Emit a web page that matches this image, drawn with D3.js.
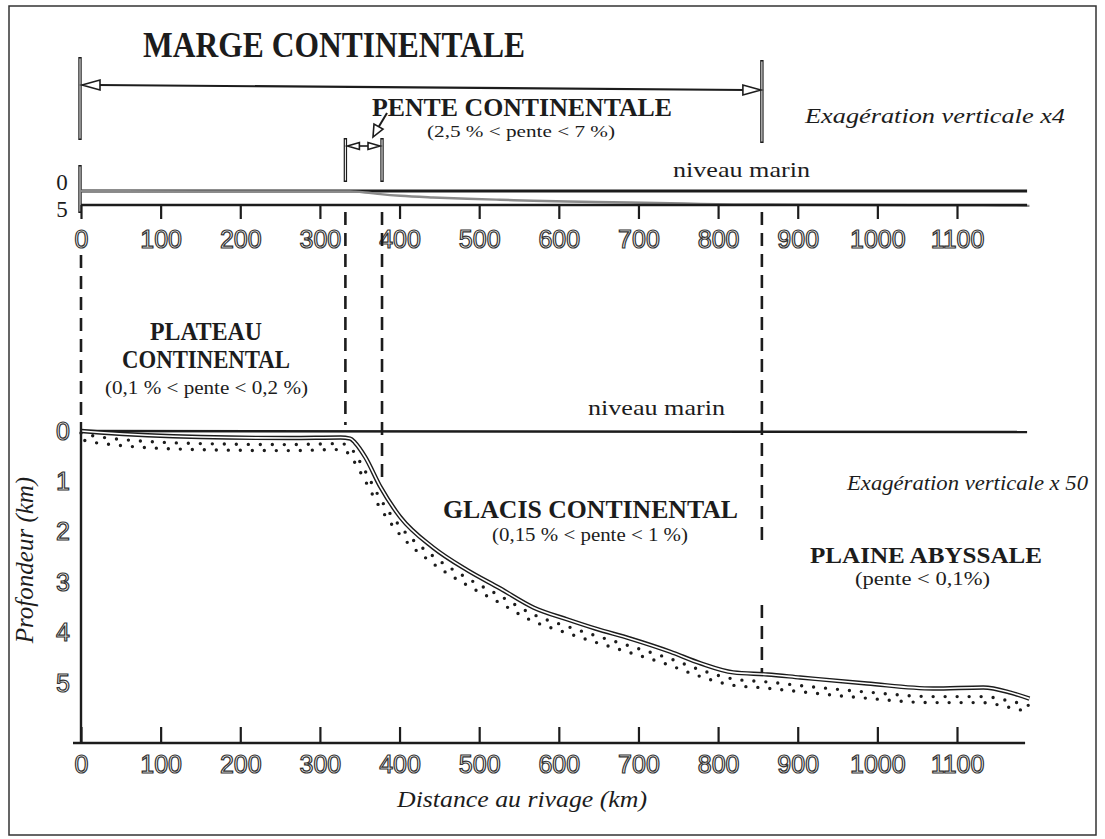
<!DOCTYPE html>
<html>
<head>
<meta charset="utf-8">
<script src="https://cdn.jsdelivr.net/npm/d3@7"></script>
<style>
  body { margin: 0; background: #fff; }
  svg { display: block; }
</style>
</head>
<body>
<div id="chart"></div>
<script>
// Distance from the shore (km) and depth of the sea floor (km)
var distance = [0, 24, 150, 263, 326, 338, 344, 357, 376, 401, 442, 485, 526, 568, 611, 646, 690, 740, 778, 819, 862, 903, 987, 1070, 1133, 1167, 1191];
var floorDepth = [0, 0.03, 0.12, 0.14, 0.13, 0.15, 0.23, 0.52, 1.11, 1.71, 2.31, 2.76, 3.12, 3.5, 3.74, 3.92, 4.12, 4.38, 4.61, 4.79, 4.83, 4.89, 5.01, 5.11, 5.09, 5.19, 5.31];
// dotted sediment band just under the floor
var sedimentDepth = [0.04, 0.12, 0.25, 0.27, 0.25, 0.32, 0.45, 0.8, 1.35, 1.9, 2.48, 2.92, 3.27, 3.64, 3.88, 4.06, 4.27, 4.52, 4.74, 4.92, 4.98, 5.05, 5.18, 5.27, 5.27, 5.36, 5.45];

var xTicks = [0, 100, 200, 300, 400, 500, 600, 700, 800, 900, 1000, 1100];
var depthTicks = [0, 1, 2, 3, 4, 5];

// zone limits (km)
var margeEnd = 855, penteStart = 332, penteEnd = 378, axisEnd = 1188;

var width = 1105, height = 839;
var serif = "'Liberation Serif', 'Times New Roman', serif";
var sans = "'Liberation Sans', Arial, sans-serif";
var ink = "#1c1c1c";

var svg = d3.select("#chart").append("svg")
  .attr("width", width)
  .attr("height", height);

// frame
svg.append("rect")
  .attr("x", 9).attr("y", 6).attr("width", 1087).attr("height", 829)
  .attr("fill", "none").attr("stroke", "#333").attr("stroke-width", 1.5);

var x = d3.scaleLinear().domain([0, 1100]).range([81, 957]);
var yTop = d3.scaleLinear().domain([0, 5]).range([191, 205]);
var yBot = d3.scaleLinear().domain([0, 5]).range([431, 683]);

var profile = distance.map(function(d, i) { return { km: d, depth: floorDepth[i], sed: sedimentDepth[i] }; });

function label(txt, x0, y0, size, opts) {
  opts = opts || {};
  var t = svg.append("text")
    .attr("x", x0).attr("y", y0)
    .attr("font-family", serif)
    .attr("font-size", size)
    .attr("font-weight", opts.bold ? "bold" : "normal")
    .attr("font-style", opts.italic ? "italic" : "normal")
    .attr("fill", ink)
    .text(txt);
  if (opts.len) t.attr("textLength", opts.len).attr("lengthAdjust", "spacingAndGlyphs");
  return t;
}

// hollow bar (double line look)
function bar(x0, y1, y2) {
  svg.append("line").attr("x1", x0).attr("x2", x0).attr("y1", y1).attr("y2", y2)
    .attr("stroke", ink).attr("stroke-width", 3.4);
  svg.append("line").attr("x1", x0).attr("x2", x0).attr("y1", y1 + 1.5).attr("y2", y2 - 1.5)
    .attr("stroke", "#fff").attr("stroke-width", 1);
}

function head(tipX, tipY, dir, len, half) {
  svg.append("polygon")
    .attr("points", [[tipX, tipY], [tipX - dir * len, tipY - half], [tipX - dir * len, tipY + half]].join(" "))
    .attr("fill", "#fff").attr("stroke", ink).attr("stroke-width", 1.6);
}

// ---- MARGE CONTINENTALE bracket
label("MARGE CONTINENTALE", 143, 57, 35, { bold: true, len: 382 });
bar(x(0) - 1, 57, 140);
bar(x(margeEnd), 60, 143);
svg.append("line").attr("x1", x(0) + 16).attr("y1", 85).attr("x2", x(margeEnd) - 16).attr("y2", 90)
  .attr("stroke", ink).attr("stroke-width", 2.2);
head(x(0) + 1, 85, -1, 18, 5);
head(x(margeEnd) - 1, 90, 1, 18, 5);

// ---- PENTE CONTINENTALE bracket
label("PENTE CONTINENTALE", 372, 116, 26, { bold: true, len: 300 });
label("(2,5 % < pente < 7 %)", 427, 137, 17, { len: 188 });
bar(x(penteStart), 138, 182);
bar(x(penteEnd), 138, 182);
svg.append("line").attr("x1", x(penteStart) + 10).attr("x2", x(penteEnd) - 10).attr("y1", 146).attr("y2", 146)
  .attr("stroke", ink).attr("stroke-width", 1.6);
head(x(penteStart) + 2, 146, -1, 12, 3.5);
head(x(penteEnd) - 2, 146, 1, 12, 3.5);
svg.append("line").attr("x1", 387).attr("y1", 113).attr("x2", 378).attr("y2", 128)
  .attr("stroke", ink).attr("stroke-width", 2);
svg.append("polygon").attr("points", "373,137 374,124 383,129")
  .attr("fill", "#fff").attr("stroke", ink).attr("stroke-width", 1.6);

label("Exagération verticale x4", 805, 123, 22, { italic: true, len: 260 });
label("niveau marin", 673, 177, 22, { len: 137 });

// ---- top profile (x4)
bar(x(0) - 1, 165, 213);
svg.append("line").attr("x1", x(0)).attr("x2", x(axisEnd)).attr("y1", yTop(0)).attr("y2", yTop(0))
  .attr("stroke", ink).attr("stroke-width", 3);

var lineTop = d3.line()
  .x(function(d) { return x(d.km); })
  .y(function(d) { return yTop(d.depth); })
  .curve(d3.curveMonotoneX);
svg.append("path").datum(profile).attr("d", lineTop)
  .attr("fill", "none").attr("stroke", "#8a8a8a").attr("stroke-width", 2.4);

svg.append("line").attr("x1", x(0)).attr("x2", x(axisEnd)).attr("y1", yTop(5)).attr("y2", yTop(5))
  .attr("stroke", ink).attr("stroke-width", 2.6);

var fmt = d3.format("d");
var topAxis = svg.append("g")
  .attr("transform", "translate(0," + yTop(5) + ")")
  .call(d3.axisBottom(x).tickValues(xTicks).tickFormat(fmt).tickSize(14).tickPadding(11));
topAxis.select(".domain").remove();

[0, 5].forEach(function(d) {
  label(String(d), 62, d === 0 ? 190 : 217, 23).attr("text-anchor", "middle");
});

// ---- dashed guides
var dashed = [[0, 255, 415], [penteStart, 212, 425], [penteEnd, 212, 483], [margeEnd, 212, 540], [margeEnd, 605, 675]];
svg.selectAll(".guide").data(dashed).join("line")
  .attr("class", "guide")
  .attr("x1", function(d) { return x(d[0]); })
  .attr("x2", function(d) { return x(d[0]); })
  .attr("y1", function(d) { return d[1]; })
  .attr("y2", function(d) { return d[2]; })
  .attr("stroke", ink).attr("stroke-width", 2.6).attr("stroke-dasharray", "13,8");

// ---- zone labels
label("PLATEAU", 206, 340, 25, { bold: true, len: 112 }).attr("text-anchor", "middle");
label("CONTINENTAL", 206, 368, 25, { bold: true, len: 168 }).attr("text-anchor", "middle");
label("(0,1 % < pente < 0,2 %)", 105, 394, 19, { len: 203 });
label("niveau marin", 588, 415, 22, { len: 137 });
label("Exagération verticale x 50", 847, 490, 22, { italic: true, len: 241 });
label("GLACIS CONTINENTAL", 443, 518, 25, { bold: true, len: 295 });
label("(0,15 % < pente < 1 %)", 492, 541, 18, { len: 196 });
label("PLAINE ABYSSALE", 810, 563, 24, { bold: true, len: 232 });
label("(pente < 0,1%)", 855, 585, 18, { len: 135 });

// ---- bottom profile (x50)
svg.append("line").attr("x1", x(0)).attr("x2", x(axisEnd)).attr("y1", yBot(0)).attr("y2", yBot(0) + 1)
  .attr("stroke", ink).attr("stroke-width", 2.6);

var sedLine = d3.line()
  .x(function(d) { return x(d.km); })
  .y(function(d) { return yBot(d.sed); })
  .curve(d3.curveMonotoneX);
svg.append("path").datum(profile).attr("d", sedLine)
  .attr("fill", "none").attr("stroke", ink).attr("stroke-width", 3.4)
  .attr("stroke-linecap", "round").attr("stroke-dasharray", "0,12");
svg.append("path").datum(profile).attr("d", sedLine)
  .attr("transform", "translate(-2,6)")
  .attr("fill", "none").attr("stroke", ink).attr("stroke-width", 3.4)
  .attr("stroke-linecap", "round").attr("stroke-dasharray", "0,12").attr("stroke-dashoffset", 6);

var floorLine = d3.line()
  .x(function(d) { return x(d.km); })
  .y(function(d) { return yBot(d.depth); })
  .curve(d3.curveMonotoneX);
svg.append("path").datum(profile).attr("d", floorLine)
  .attr("fill", "none").attr("stroke", ink).attr("stroke-width", 4.4);
svg.append("path").datum(profile).attr("d", floorLine)
  .attr("fill", "none").attr("stroke", "#fff").attr("stroke-width", 1.6);

// axes
svg.append("line").attr("x1", x(0)).attr("x2", x(0)).attr("y1", 422).attr("y2", 743)
  .attr("stroke", ink).attr("stroke-width", 2.4);
svg.append("line").attr("x1", 73).attr("x2", x(axisEnd) - 2).attr("y1", 743).attr("y2", 743)
  .attr("stroke", ink).attr("stroke-width", 2.6);

var botAxis = svg.append("g")
  .attr("transform", "translate(0,743)")
  .call(d3.axisBottom(x).tickValues(xTicks).tickFormat(fmt).tickSizeInner(-16).tickSizeOuter(0).tickPadding(12));
botAxis.select(".domain").remove();

var leftAxis = svg.append("g")
  .attr("transform", "translate(" + x(0) + ",0)")
  .call(d3.axisLeft(yBot).tickValues(depthTicks).tickFormat(fmt).tickSize(0).tickPadding(18));
leftAxis.select(".domain").remove();
leftAxis.selectAll("text").attr("text-anchor", "middle").attr("x", -18);

// tick styling: outlined sans digits
svg.selectAll(".tick line").attr("stroke", ink).attr("stroke-width", 2.2);
svg.selectAll(".tick text")
  .attr("font-family", sans)
  .attr("font-size", 25)
  .attr("fill", "#fff")
  .attr("stroke", "#333")
  .attr("stroke-width", 1.2);
leftAxis.selectAll(".tick line").remove();

label("Distance au rivage (km)", 397, 807, 24, { italic: true, len: 250 });
label("Profondeur (km)", 0, 0, 25, { italic: true })
  .attr("text-anchor", "middle")
  .attr("transform", "translate(33,560) rotate(-90)");
</script>
</body>
</html>
